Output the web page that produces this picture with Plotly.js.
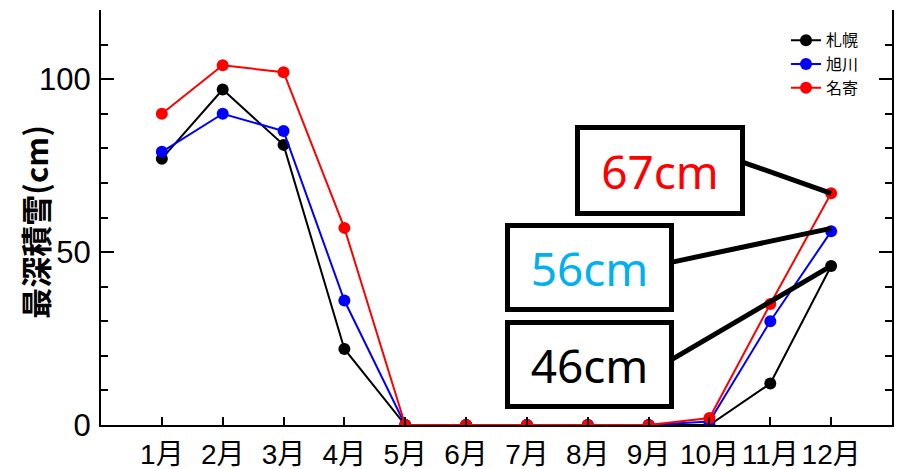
<!DOCTYPE html>
<html>
<head>
<meta charset="utf-8">
<script src="https://cdn.plot.ly/plotly-3.0.1.min.js"></script>
<style>html,body{margin:0;padding:0;background:#fff;}#chart{width:903px;height:469px;}</style>
</head>
<body>
<div id="chart"></div>
<script>
const months = [1,2,3,4,5,6,7,8,9,10,11,12];
const monthLabels = ['1月','2月','3月','4月','5月','6月','7月','8月','9月','10月','11月','12月'];
const sapporo   = [77, 97, 81, 22, 0, 0, 0, 0, 0, 0, 12, 46];
const asahikawa = [79, 90, 85, 36, 0, 0, 0, 0, 0, 1, 30, 56];
const nayoro    = [90, 104, 102, 57, 0, 0, 0, 0, 0, 2, 35, 67];
const seriesNames = ['札幌','旭川','名寄'];
const seriesColors = ['#000000','#0000ff','#ff0000'];
const calloutTexts = ['67cm','56cm','46cm'];
const calloutColors = ['#ff0000','#00b0f0','#000000'];
const yTitle = '最深積雪(cm)';

const FONT = 'Liberation Sans, Arial, Noto Sans CJK JP, sans-serif';
const CJK = 'Noto Sans CJK JP, sans-serif';

const allSeries = [sapporo, asahikawa, nayoro];
const traces = allSeries.map((vals, i) => ({
  x: months, y: vals, name: seriesNames[i], type: 'scatter', mode: 'lines+markers',
  line: {color: seriesColors[i], width: 2},
  marker: {color: seriesColors[i], size: 12, symbol: 'circle'}
}));

const last = months.length - 1;
const boxFont = 'Noto Sans, sans-serif';
const layout = {
  width: 903, height: 469,
  margin: {l: 101, r: 11, t: 10, b: 44},
  paper_bgcolor: '#fff', plot_bgcolor: '#fff',
  showlegend: true,
  legend: {x: 0.866, y: 0.968, xanchor: 'left', yanchor: 'top', bgcolor: 'rgba(0,0,0,0)',
           font: {family: CJK, size: 16, color: '#000'}, tracegroupgap: 0},
  xaxis: {range: [0, 13], tickvals: months, ticktext: monthLabels, ticks: 'inside', ticklen: 8,
          tickwidth: 2, tickcolor: '#000', showline: true, linecolor: '#000', linewidth: 2,
          showgrid: false, zeroline: false, mirror: false,
          tickfont: {family: FONT, size: 28, color: '#000'}, ticklabelstandoff: 3},
  xaxis2: {range: [0, 13], overlaying: 'x', side: 'top', anchor: 'y', tickvals: [0,5,10],
           showticklabels: false, ticks: 'inside', ticklen: 13, tickwidth: 2, tickcolor: '#000',
           minor: {dtick: 1, ticks: 'inside', ticklen: 8, tickwidth: 2, tickcolor: '#000'},
           showline: true, linecolor: '#000', linewidth: 2, showgrid: false, zeroline: false},
  yaxis: {range: [0, 120], tickvals: [0,50,100], ticks: 'inside', ticklen: 13, tickwidth: 2,
          tickcolor: '#000', minor: {dtick: 10, ticks: 'inside', ticklen: 7, tickwidth: 2, tickcolor: '#000'},
          showline: true, linecolor: '#000', linewidth: 2, mirror: 'ticks',
          showgrid: false, zeroline: false,
          tickfont: {family: FONT, size: 31, color: '#000'}, ticklabelstandoff: 2},
  shapes: [
    {type: 'line', xref: 'x', yref: 'y', xsizemode: 'pixel', ysizemode: 'pixel',
     xanchor: months[last], yanchor: nayoro[last], x0: -88, y0: 31, x1: 0, y1: 0,
     line: {color: '#000', width: 5}},
    {type: 'line', xref: 'x', yref: 'y', xsizemode: 'pixel', ysizemode: 'pixel',
     xanchor: months[last], yanchor: asahikawa[last], x0: -160, y0: -31, x1: 0, y1: 3,
     line: {color: '#000', width: 5}},
    {type: 'line', xref: 'x', yref: 'y', xsizemode: 'pixel', ysizemode: 'pixel',
     xanchor: months[last], yanchor: sapporo[last], x0: -160, y0: -94, x1: 0, y1: 0,
     line: {color: '#000', width: 5}}
  ],
  annotations: [
    {xref: 'paper', yref: 'paper', x: -0.0845, y: 0.49, xanchor: 'center', yanchor: 'middle',
     showarrow: false, text: yTitle, textangle: -90,
     font: {family: CJK, size: 31, color: '#000', weight: 'bold'}},
    {xref: 'paper', yref: 'paper', x: 0.7067, y: 0.613, xanchor: 'center', yanchor: 'middle',
     showarrow: false, text: calloutTexts[0],
     width: 160, height: 81, borderwidth: 5, borderpad: 0, bordercolor: '#000', bgcolor: '#fff',
     font: {family: boxFont, size: 46, color: calloutColors[0]}},
    {xref: 'paper', yref: 'paper', x: 0.6176, y: 0.3795, xanchor: 'center', yanchor: 'middle',
     showarrow: false, text: calloutTexts[1],
     width: 159, height: 79, borderwidth: 5, borderpad: 0, bordercolor: '#000', bgcolor: '#fff',
     font: {family: boxFont, size: 46, color: calloutColors[1]}},
    {xref: 'paper', yref: 'paper', x: 0.6176, y: 0.1446, xanchor: 'center', yanchor: 'middle',
     showarrow: false, text: calloutTexts[2],
     width: 159, height: 79, borderwidth: 5, borderpad: 0, bordercolor: '#000', bgcolor: '#fff',
     font: {family: boxFont, size: 46, color: calloutColors[2]}}
  ]
};

Plotly.newPlot('chart', traces, layout, {displayModeBar: false, staticPlot: true});
</script>
</body>
</html>
